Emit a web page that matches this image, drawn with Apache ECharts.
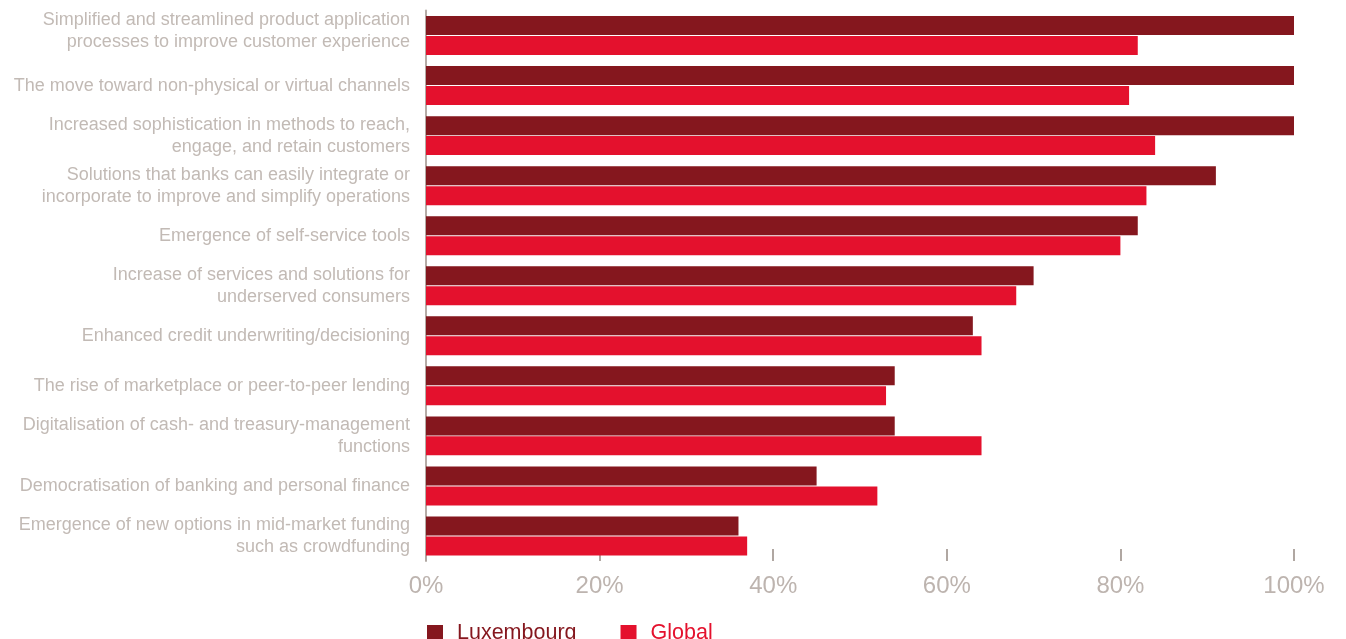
<!DOCTYPE html>
<html><head><meta charset="utf-8">
<script src="https://cdn.jsdelivr.net/npm/echarts@6/dist/echarts.min.js"></script>
<style>html,body{margin:0;padding:0;background:#fff}#c{width:1346px;height:639px}</style>
</head><body><div id="c"></div>
<script>
const categories = [
  "Simplified and streamlined product application\nprocesses to improve customer experience",
  "The move toward non-physical or virtual channels",
  "Increased sophistication in methods to reach,\nengage, and retain customers",
  "Solutions that banks can easily integrate or\nincorporate to improve and simplify operations",
  "Emergence of self-service tools",
  "Increase of services and solutions for\nunderserved consumers",
  "Enhanced credit underwriting/decisioning",
  "The rise of marketplace or peer-to-peer lending",
  "Digitalisation of cash- and treasury-management\nfunctions",
  "Democratisation of banking and personal finance",
  "Emergence of new options in mid-market funding\nsuch as crowdfunding"
];
const luxembourg = [100, 100, 100, 91, 82, 70, 63, 54, 54, 45, 36];
const global = [82, 81, 84, 83, 80, 68, 64, 53, 64, 52, 37];
const xTicks = [0, 20, 40, 60, 80, 100];

const FONT = "Liberation Sans";
const LABEL_COLOR = '#c2bab5';
const chart = echarts.init(document.getElementById('c'));
chart.setOption({
  animation: false,
  textStyle: {fontFamily: FONT},
  grid: {left: 426, right: 52, top: 10.5, bottom: 78, containLabel: false},
  legend: {
    left: 422, top: 617, icon: 'rect', itemWidth: 16, itemHeight: 16, itemGap: 44,
    textStyle: {fontSize: 21.5, fontFamily: FONT, padding: [0, 0, 0, 9]},
    data: [
      {name: 'Luxembourg', textStyle: {color: '#85171E'}},
      {name: 'Global', textStyle: {color: '#E4112D'}}
    ]
  },
  xAxis: {
    type: 'value', min: 0, max: 100, interval: 20,
    axisLine: {show: false},
    axisTick: {show: true, inside: true, length: 12, lineStyle: {color: '#b0a7a2', width: 2}},
    splitLine: {show: false},
    axisLabel: {
      margin: 13, fontSize: 24, color: '#bdb4af', fontFamily: FONT,
      formatter: v => xTicks.includes(v) ? v + '%' : ''
    }
  },
  yAxis: {
    type: 'category', inverse: true, data: categories,
    axisLine: {show: true, lineStyle: {color: '#b5aca7', width: 2}},
    axisTick: {show: false},
    axisLabel: {
      margin: 16, fontSize: 18, lineHeight: 22, color: LABEL_COLOR, align: 'right',
      fontFamily: FONT,
      formatter: (v, i) => i === 0
        ? v.split('\n').map(l => '{a|' + l + '}').join('\n') + '\n{s| }'
        : v,
      rich: {
        a: {fontSize: 18, lineHeight: 22, color: LABEL_COLOR, fontFamily: FONT, align: 'right'},
        s: {fontSize: 4, lineHeight: 9, align: 'right'}
      }
    }
  },
  series: [
    {name: 'Luxembourg', type: 'bar', data: luxembourg, barWidth: 19, barGap: '5%',
     itemStyle: {color: '#85171E'}},
    {name: 'Global', type: 'bar', data: global, barWidth: 19,
     itemStyle: {color: '#E4112D'}}
  ]
});
</script></body></html>
